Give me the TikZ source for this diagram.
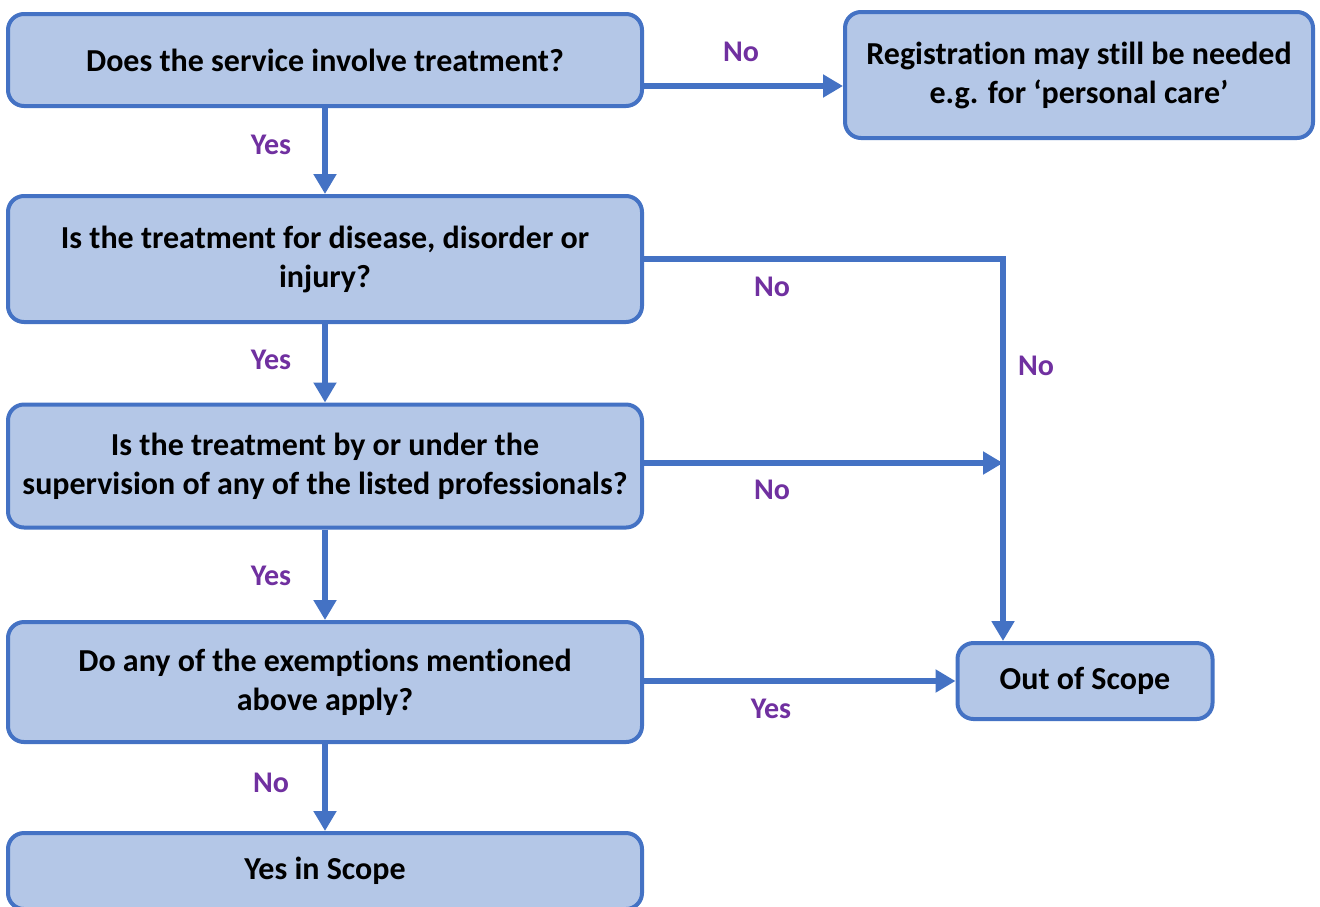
\documentclass[tikz,border=0pt]{standalone}
\usepackage{fontspec}
\setmainfont{Carlito}[Ligatures={TeX,NoCommon}]
\usetikzlibrary{arrows.meta}
\definecolor{boxfill}{HTML}{B4C7E7}
\definecolor{boxline}{HTML}{4472C4}
\definecolor{answer}{HTML}{7030A0}
\tikzset{
	question node/.style={draw=boxline, fill=boxfill, line width=2pt, rounded corners=8pt, align=center,
		font=\fontsize{16}{19.5}\selectfont\bfseries, minimum height=#1, inner sep=2pt},
	answer node/.style={text=answer, font=\fontsize{15}{17}\selectfont\bfseries, inner sep=0pt},
	flow arrow/.style={draw=boxline, line width=2.6pt, -{Triangle[length=10pt,width=11pt]}},
}
\begin{document}
\begin{tikzpicture}[x=0.5pt, y=-0.5pt]
  \useasboundingbox[fill=white] (0,0) rectangle (1320,906);

  % question boxes
  \node (q1)[question node=46pt, minimum width=317pt] at (325,60) {Does the service involve treatment?};
  \node (q2)[question node=63pt, minimum width=317pt] at (325,259) {Is the treatment for disease, disorder or\\injury?};
  \node (q3)[question node=61.5pt, minimum width=317pt] at (325,466) {Is the treatment by or under the\\supervision of any of the listed professionals?};
  \node (q4)[question node=60pt, minimum width=317pt] at (325,682) {Do any of the exemptions mentioned\\above apply?};
  \node (q5)[question node=38pt, minimum width=317pt] at (325,871) {Yes in Scope};

  % outcome boxes
  \node (reg)[question node=63pt, minimum width=234pt] at (1079,75) {Registration may still be needed\\e.g. for `personal care'};
  \node (oos)[question node=38pt, minimum width=127.5pt] at (1085,681) {Out of Scope};

  \coordinate (c1) at (642,86);
  \coordinate (c3) at (642,463);
  \coordinate (bend) at (1003,259);

  % connectors
  \draw[flow arrow] (c1) -- (c1 -| reg.west);
  \draw[flow arrow] (q1.south) -- (q2.north);
  \draw[flow arrow] (q2.south) -- (q3.north);
  \draw[flow arrow] (q3.south) -- (q4.north);
  \draw[flow arrow] (q4.south) -- (q5.north);
  \draw[flow arrow] (q2.east) -- (bend) -- (bend |- oos.north);
  \draw[flow arrow] (c3) -- (c3 -| bend);
  \draw[flow arrow] (q4.east |- oos.west) -- (oos.west);

  % answers
  \node (a1)[answer node] at (741,52) {No};
  \node (a2)[answer node] at (271,145) {Yes};
  \node (a3)[answer node] at (772,287) {No};
  \node (a4)[answer node] at (1036,366) {No};
  \node (a5)[answer node] at (271,360) {Yes};
  \node (a6)[answer node] at (772,490) {No};
  \node (a7)[answer node] at (271,576) {Yes};
  \node (a8)[answer node] at (771,709) {Yes};
  \node (a9)[answer node] at (271,783) {No};
\end{tikzpicture}
\end{document}
